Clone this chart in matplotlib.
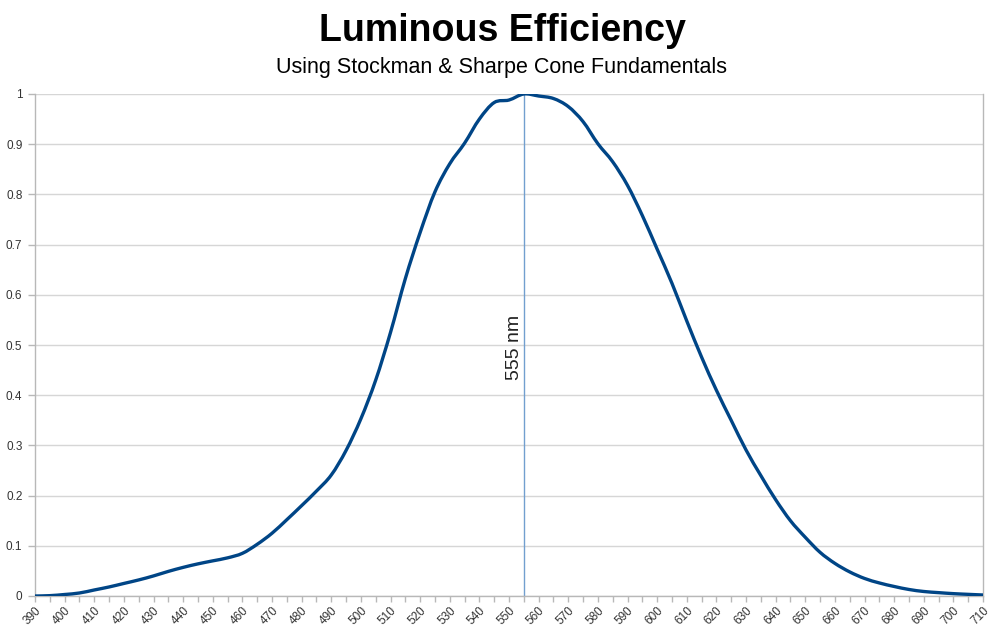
import matplotlib
matplotlib.use("Agg")
import matplotlib.pyplot as plt
from matplotlib.path import Path
from matplotlib.patches import PathPatch
import numpy as np

wavelength = list(range(390, 715, 5))
efficiency = [
    0.000, 0.0007, 0.003, 0.006, 0.012, 0.018, 0.025, 0.032, 0.040, 0.049,   # 390-435
    0.057, 0.064, 0.070, 0.076, 0.085, 0.103, 0.125, 0.152, 0.180, 0.209,    # 440-485
    0.241, 0.290, 0.353, 0.430, 0.525, 0.632, 0.724, 0.805, 0.861, 0.902,    # 490-535
    0.950, 0.983, 0.988, 1.000, 0.996, 0.991, 0.975, 0.945, 0.901, 0.865,    # 540-585
    0.818, 0.758, 0.691, 0.623, 0.548, 0.476, 0.410, 0.350, 0.291, 0.240,    # 590-635
    0.192, 0.150, 0.117, 0.087, 0.065, 0.048, 0.035, 0.026, 0.019, 0.013,    # 640-685
    0.009, 0.0067, 0.0047, 0.0033, 0.002,                                    # 690-710
]
x_labels = list(range(390, 720, 10))
y_ticks = [0, 0.1, 0.2, 0.3, 0.4, 0.5, 0.6, 0.7, 0.8, 0.9, 1]
y_labels = ["0", "0.1", "0.2", "0.3", "0.4", "0.5", "0.6", "0.7", "0.8", "0.9", "1"]
peak = 555
peak_label = "555 nm"
title = "Luminous Efficiency"
subtitle = "Using Stockman & Sharpe Cone Fundamentals"

plt.rcParams['font.family'] = ['Liberation Sans', 'DejaVu Sans']

fig = plt.figure(figsize=(10, 6.34), dpi=100)
ax = fig.add_axes([0.035, 1 - 596 / 634, 0.948, (596 - 94) / 634])

ax.set_xlim(390, 710)
ax.set_ylim(0, 1)

ax.set_yticks(y_ticks)
ax.set_yticklabels(y_labels)
ax.set_xticks(x_labels)
ax.set_xticklabels([str(v) for v in x_labels], rotation=45, ha='right', va='top',
                   rotation_mode='anchor')
ax.set_xticks(wavelength, minor=True)

ax.grid(axis='y', color='#d6d6d6', linewidth=1.0, zorder=0)
ax.set_axisbelow(True)

for side in ['left', 'bottom', 'right']:
    ax.spines[side].set_color('#b8b8b8')
    ax.spines[side].set_linewidth(1.0)
ax.spines['top'].set_visible(False)

ax.tick_params(axis='x', which='both', direction='out', length=4, width=1,
               color='#b8b8b8', labelcolor='#333333', labelsize=8.5, pad=2)
ax.tick_params(axis='y', which='both', direction='out', length=5, width=1,
               color='#b8b8b8', labelcolor='#333333', labelsize=8.5, pad=4)

ax.axvline(peak, color='#729fcf', linewidth=1.0, zorder=2)
ax.text(peak - 0.4, 0.495, peak_label, rotation=90, ha='right', va='center',
        fontsize=14, color='#222222')

# smooth curve through the data points (Catmull-Rom as cubic Bezier segments)
xs = np.array(wavelength, dtype=float)
ys = np.array(efficiency, dtype=float)
pts = np.column_stack([xs, ys])
ext = np.vstack([pts[0], pts, pts[-1]])
verts = [tuple(pts[0])]
codes = [Path.MOVETO]
for i in range(len(pts) - 1):
    p0, p1, p2, p3 = ext[i], ext[i + 1], ext[i + 2], ext[i + 3]
    c1 = p1 + (p2 - p0) / 6.0
    c2 = p2 - (p3 - p1) / 6.0
    verts += [tuple(c1), tuple(c2), tuple(p2)]
    codes += [Path.CURVE4, Path.CURVE4, Path.CURVE4]
curve = PathPatch(Path(verts, codes), facecolor='none', edgecolor='#004586',
                  linewidth=2.4, zorder=3, capstyle='round', joinstyle='round')
ax.add_patch(curve)

fig.text(0.502, 1 - 31 / 634, title, ha='center', va='center', fontsize=27,
         fontweight='bold', color='black')
fig.text(0.502, 1 - 67 / 634, subtitle, ha='center', va='center', fontsize=15.5,
         color='black')

fig.savefig("out.png", dpi=100, facecolor='white')
